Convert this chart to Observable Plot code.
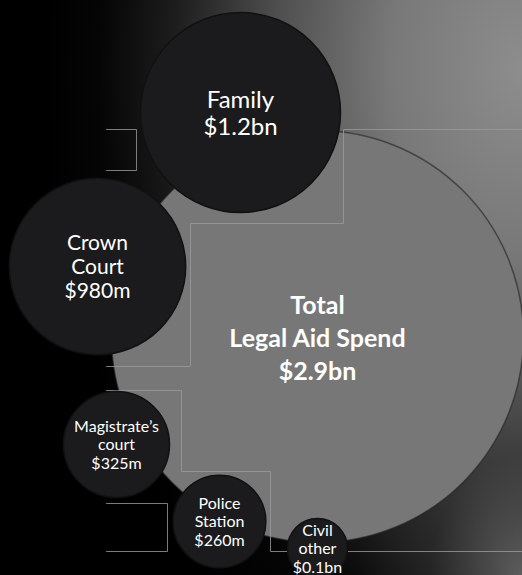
<!DOCTYPE html>
<html>
<head>
<meta charset="utf-8">
<script src="https://cdn.jsdelivr.net/npm/d3@7"></script>
<script src="https://cdn.jsdelivr.net/npm/@observablehq/plot@0.6"></script>
<style>
  html, body { margin: 0; padding: 0; background: #000; }
  #chart svg { display: block; }
</style>
</head>
<body>
<div id="chart"></div>
<script>
// --- data ---------------------------------------------------------------
const categories  = ["Total\nLegal Aid Spend", "Family", "Crown\nCourt", "Magistrate’s\ncourt", "Police\nStation", "Civil\nother"];
const spendBn     = [2.9, 1.2, 0.98, 0.325, 0.26, 0.1];
const valueLabels = ["$2.9bn", "$1.2bn", "$980m", "$325m", "$260m", "$0.1bn"];
// bubble layout (chart coordinate space)
const bubbleX = [317, 240, 97, 116, 219, 317];
const bubbleY = [336, 112, 266, 444, 521, 548];
// decorative frame guides (chart coordinate space)
const guideId = ["a","a","a","a", "b","b","b","b","b","b", "c","c","c","c","c","c", "d","d","d","d"];
const guideX  = [106,136,136,106, 522,343,343,190,190,106, 106,181,181,270,270,522, 106,167,167,106];
const guideY  = [129,129,170,170, 129,129,223,223,366,366, 390,390,471,471,551,551, 503,503,551,551];

const bubbles = categories.map((c, i) => ({
  name: c, value: spendBn[i], label: valueLabels[i],
  x: bubbleX[i], y: bubbleY[i], text: c + "\n" + valueLabels[i], i
}));
const guides = guideX.map((x, i) => ({id: guideId[i], x, y: guideY[i]}));

const total = bubbles.filter(d => d.i === 0);
const parts = bubbles.filter(d => d.i > 0);

const font = "Lato, 'Open Sans', sans-serif";

const chart = Plot.plot({
  width: 522,
  height: 575,
  margin: 0,
  style: {
    fontFamily: font,
    background:
      "radial-gradient(ellipse 32% 38% at 100% 100%, rgba(105,105,105,0.85) 0%, rgba(60,60,60,0.4) 55%, rgba(0,0,0,0) 100%)," +
      "radial-gradient(ellipse 92% 115% at 100% 12%, #8d8d8d 0%, #787878 28%, #4e4e4e 52%, #1e1e1e 72%, #050505 88%, #000 100%)"
  },
  x: {domain: [0, 522], range: [0, 522], axis: null},
  y: {domain: [0, 575], range: [0, 575], axis: null},
  r: {type: "linear", domain: [0.1, 0.325, 1.2, 2.9], range: [30, 53, 100, 206]},
  marks: [
    Plot.dot(total, {x: "x", y: "y", r: "value", fill: "#777777", stroke: "#222", strokeOpacity: 0.6, strokeWidth: 1.5}),
    Plot.line(guides, {x: "x", y: "y", z: "id", stroke: "#9a9a9a", strokeWidth: 1, strokeOpacity: 0.8}),
    Plot.dot(parts, {x: "x", y: "y", r: "value", fill: "#1b1a1c", stroke: "#111", strokeWidth: 1.5}),
    // labels
    Plot.text(total, {x: "x", y: "y", text: "text", fill: "white", fontSize: 25, fontWeight: "bold", lineHeight: 1.32, lineAnchor: "middle"}),
    Plot.text(bubbles.filter(d => d.i === 1), {x: "x", y: "y", text: "text", fill: "white", fontSize: 24, lineHeight: 1.15, lineAnchor: "middle"}),
    Plot.text(bubbles.filter(d => d.i === 2), {x: "x", y: "y", text: "text", fill: "white", fontSize: 21, lineHeight: 1.15, lineAnchor: "middle"}),
    Plot.text(bubbles.filter(d => d.i >= 3), {x: "x", y: "y", text: "text", fill: "white", fontSize: 16, lineHeight: 1.15, lineAnchor: "middle"})
  ]
});
document.getElementById("chart").appendChild(chart);
</script>
</body>
</html>
